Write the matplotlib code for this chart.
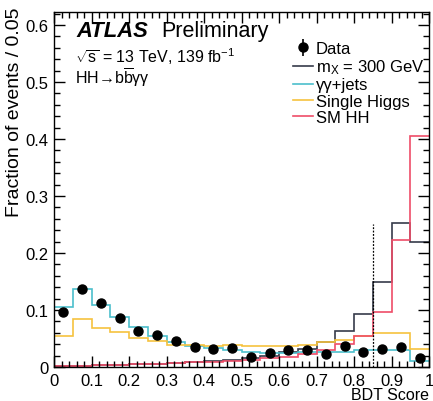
import matplotlib.pyplot as plt
import numpy as np
from matplotlib.ticker import MultipleLocator, FormatStrFormatter

plt.rcParams['font.family'] = ['Liberation Sans', 'DejaVu Sans']
plt.rcParams['mathtext.fontset'] = 'custom'
plt.rcParams['mathtext.rm'] = 'Liberation Sans'
plt.rcParams['mathtext.it'] = 'Liberation Sans:italic'

# BDT score binning (0.05 wide)
bin_edges = np.linspace(0, 1, 21)

# normalised distributions per bin
data_frac = [0.096, 0.137, 0.112, 0.086, 0.063, 0.056, 0.046, 0.035, 0.031, 0.033,
             0.017, 0.024, 0.030, 0.029, 0.023, 0.036, 0.027, 0.032, 0.035, 0.016]
data_err = [0.006, 0.007, 0.006, 0.005, 0.005, 0.004, 0.004, 0.004, 0.004, 0.004,
            0.003, 0.003, 0.004, 0.004, 0.003, 0.004, 0.004, 0.004, 0.004, 0.003]
mx300 = [0.001, 0.002, 0.003, 0.004, 0.005, 0.006, 0.007, 0.009, 0.010, 0.012,
         0.016, 0.020, 0.026, 0.031, 0.043, 0.063, 0.093, 0.149, 0.252, 0.220]
yy_jets = [0.105, 0.136, 0.109, 0.088, 0.071, 0.055, 0.043, 0.037, 0.033, 0.029,
           0.026, 0.024, 0.025, 0.026, 0.026, 0.027, 0.029, 0.029, 0.030, 0.011]
single_higgs = [0.055, 0.084, 0.068, 0.061, 0.051, 0.045, 0.039, 0.038, 0.036, 0.039,
                0.036, 0.036, 0.036, 0.039, 0.044, 0.048, 0.055, 0.060, 0.060, 0.032]
sm_hh = [0.001, 0.002, 0.003, 0.004, 0.005, 0.006, 0.007, 0.008, 0.009, 0.010,
         0.012, 0.015, 0.018, 0.022, 0.030, 0.040, 0.055, 0.097, 0.223, 0.406]

bdt_cut = 0.85
cut_height = 0.25

centers = 0.5 * (bin_edges[:-1] + bin_edges[1:])

fig = plt.figure(figsize=(4.33, 4.02), dpi=100)
ax = fig.add_axes([54 / 433, 1 - 368 / 402, 375 / 433, 355 / 402])

ax.stairs(mx300, bin_edges, baseline=None, color='#363b4a', lw=1.2, label=r'm$_{\mathregular{X}}$ = 300 GeV')
ax.stairs(yy_jets, bin_edges, baseline=None, color='#4cbfcc', lw=1.2, label='γγ+jets')
ax.stairs(single_higgs, bin_edges, baseline=None, color='#f6c23e', lw=1.2, label='Single Higgs')
ax.stairs(sm_hh, bin_edges, baseline=None, color='#ef4d68', lw=1.2, label='SM HH')
ax.errorbar(centers, data_frac, yerr=data_err, fmt='o', color='black', ms=6.5,
            elinewidth=1.2, capsize=0, label='Data', zorder=5)

# cut on the BDT score
ax.vlines(bdt_cut, 0, cut_height, colors='black', linestyles=(0, (1.5, 1.2)), lw=0.9)

ax.set_xlim(0, 1)
ax.set_ylim(0, 0.6228)
ax.xaxis.set_major_locator(MultipleLocator(0.1))
ax.xaxis.set_minor_locator(MultipleLocator(0.02))
ax.yaxis.set_major_locator(MultipleLocator(0.1))
ax.yaxis.set_minor_locator(MultipleLocator(0.02))
ax.xaxis.set_major_formatter(FormatStrFormatter('%g'))
ax.yaxis.set_major_formatter(FormatStrFormatter('%g'))
ax.tick_params(which='both', direction='in', top=True, right=True, labelsize=12, width=1)
ax.tick_params(which='major', length=8, pad=4)
ax.tick_params(which='minor', length=4)
for s in ax.spines.values():
    s.set_linewidth(1)

ax.set_ylabel('Fraction of events / 0.05', fontsize=14, loc='top')
ax.yaxis.set_label_coords(-0.082, 1.015)
ax.set_xlabel('BDT Score', fontsize=11.5, loc='right', va='baseline')
ax.xaxis.set_label_coords(1.0, -0.0915)

ax.text(0.059, 0.931, 'ATLAS', transform=ax.transAxes, fontsize=15.8,
        fontweight='bold', fontstyle='italic', va='baseline')
ax.text(0.285, 0.931, 'Preliminary', transform=ax.transAxes, fontsize=15.5, va='baseline')
ax.text(0.056, 0.858, r'$\mathregular{\sqrt{s}}$ = 13 TeV, 139 fb$^{\mathregular{-1}}$',
        transform=ax.transAxes, fontsize=11.5, va='baseline')
ax.text(0.056, 0.800, r'HH→b$\overline{\mathregular{b}}$γγ',
        transform=ax.transAxes, fontsize=11.5, va='baseline')

handles, labels = ax.get_legend_handles_labels()
order = [4, 0, 1, 2, 3]
ax.legend([handles[i] for i in order], [labels[i] for i in order],
          loc='upper left', bbox_to_anchor=(0.636, 0.918), frameon=False,
          fontsize=12, borderpad=0, borderaxespad=0, handlelength=1.2,
          handletextpad=0.2, labelspacing=0.08)

fig.savefig('out.png', dpi=100)
